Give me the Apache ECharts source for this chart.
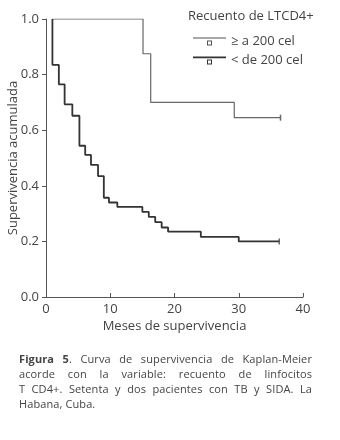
<!DOCTYPE html>
<html>
<head>
<meta charset="utf-8">
<script src="https://cdn.jsdelivr.net/npm/echarts@6/dist/echarts.min.js"></script>
<style>
  body { margin:0; background:#fff; }
  #main { position:absolute; left:0; top:0; width:340px; height:440px; }
  #cap { position:absolute; left:19px; top:351px; width:293px; font-family:'Open Sans',sans-serif;
         font-size:11px; line-height:15px; color:#444; letter-spacing:0.1px; }
  #cap div { white-space:nowrap; text-align:justify; text-align-last:justify; }
  #cap div.last { text-align-last:left; }
</style>
</head>
<body>
<div id="main"></div>
<div id="cap">
  <div><b>Figura 5</b>. Curva de supervivencia de Kaplan-Meier</div>
  <div>acorde con la variable: recuento de linfocitos</div>
  <div>T CD4+. Setenta y dos pacientes con TB y SIDA. La</div>
  <div class="last">Habana, Cuba.</div>
</div>
<script>
// meses / supervivencia acumulada
var mesesAlto = [1, 15.1, 16.3, 29.3, 36.5];
var survAlto  = [1, 0.875, 0.70, 0.645, 0.645];   // >= 200 cel

var mesesBajo = [1, 1, 2, 2.9, 4.1, 5.2, 6.1, 7, 8.1, 9, 9.8, 11.1, 15, 16, 17, 18, 19, 24.1, 30, 36.3];
var survBajo  = [1, 0.835, 0.765, 0.693, 0.652, 0.544, 0.511, 0.475, 0.435, 0.357, 0.34, 0.324, 0.306, 0.288, 0.269, 0.25, 0.235, 0.216, 0.2, 0.2];   // < 200 cel

var nombres = ['\u2265 a 200 cel', '< de 200 cel'];
var xTicks = [0, 10, 20, 30, 40];
var yTicks = [0, 0.2, 0.4, 0.6, 0.8, 1.0];

function pares(xs, ys) {
    var out = [];
    for (var i = 0; i < xs.length; i++) out.push([xs[i], ys[i]]);
    return out;
}

var fuente = "'Open Sans', sans-serif";
var gris = '#444';

var iconoFino = 'path://M0,0H33V1H0Z M14,3H19V8H14Z M15,4V7H18V4Z';
var iconoGrueso = 'path://M0,0H33V1.8H0Z M14,3H19V8H14Z M15,4V7H18V4Z';

var myChart = echarts.init(document.getElementById('main'));
var option = {
    animation: false,
    backgroundColor: '#fff',
    title: {
        text: 'Recuento de LTCD4+',
        left: 188, top: 10, padding: 0,
        textStyle: { fontFamily: fuente, fontSize: 13, fontWeight: 'normal', color: gris }
    },
    legend: {
        orient: 'vertical',
        left: 193, top: 35, padding: 0,
        itemWidth: 33, itemHeight: 8,
        itemGap: 6,
        symbolKeepAspect: false,
        textStyle: { fontFamily: fuente, fontSize: 13, color: gris },
        data: [
            { name: nombres[0], icon: iconoFino, itemStyle: { color: '#555' } },
            { name: nombres[1], icon: iconoGrueso, itemStyle: { color: '#333' } }
        ]
    },
    grid: { left: 46, right: 37, top: 19, bottom: 143, containLabel: false, outerBoundsMode: 'none' },
    xAxis: {
        type: 'value',
        min: xTicks[0], max: xTicks[xTicks.length - 1], interval: 10,
        name: 'Meses de supervivencia',
        nameLocation: 'middle', nameGap: 23, nameMoveOverlap: false,
        nameTextStyle: { fontFamily: fuente, fontSize: 13, color: gris },
        axisLine: { lineStyle: { color: '#555', width: 1 } },
        axisTick: { inside: true, length: 4, lineStyle: { color: '#555' } },
        axisLabel: { fontFamily: fuente, fontSize: 13, color: gris, margin: 6 },
        splitLine: { show: false }
    },
    yAxis: {
        type: 'value',
        min: yTicks[0], max: yTicks[yTicks.length - 1], interval: 0.2,
        name: 'Supervivencia acumulada',
        nameLocation: 'middle', nameGap: 26, nameMoveOverlap: false,
        nameTextStyle: { fontFamily: fuente, fontSize: 13, color: gris },
        axisLine: { show: true, lineStyle: { color: '#555', width: 1 } },
        axisTick: { show: true, length: 4, lineStyle: { color: '#555' } },
        axisLabel: { fontFamily: fuente, fontSize: 13, color: gris, margin: 7,
            formatter: function (v) { return v.toFixed(1); } },
        splitLine: { show: false }
    },
    series: [
        {
            name: nombres[0],
            type: 'line',
            step: 'end',
            data: pares(mesesAlto, survAlto),
            showSymbol: false,
            lineStyle: { color: '#666', width: 1.2 },
            itemStyle: { color: '#555' }
        },
        {
            name: nombres[1],
            type: 'line',
            step: 'end',
            data: pares(mesesBajo, survBajo),
            showSymbol: false,
            lineStyle: { color: '#333', width: 1.8 },
            itemStyle: { color: '#333' }
        },
        {
            // marcas de censura al final de cada curva
            type: 'scatter',
            data: [
                [mesesAlto[mesesAlto.length - 1], survAlto[survAlto.length - 1]],
                [mesesBajo[mesesBajo.length - 1], survBajo[survBajo.length - 1]]
            ],
            symbol: 'rect',
            symbolSize: [1.5, 6],
            itemStyle: { color: '#444' },
            silent: true
        }
    ]
};
myChart.setOption(option);
</script>
</body>
</html>
